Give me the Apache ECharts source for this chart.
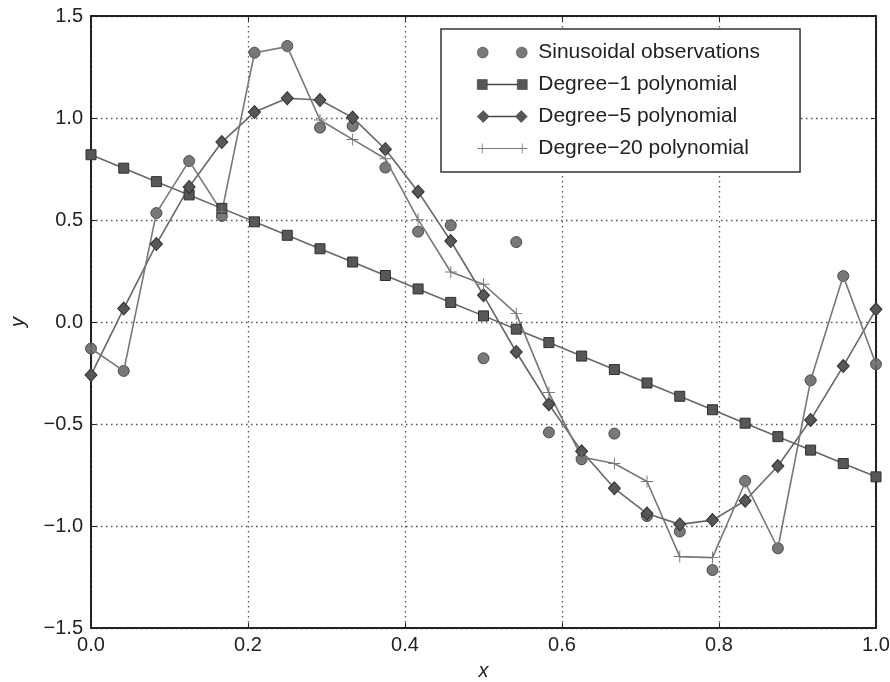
<!DOCTYPE html>
<html>
<head>
<meta charset="utf-8">
<script src="https://cdn.jsdelivr.net/npm/echarts@6/dist/echarts.min.js"></script>
<style>
  html, body { margin: 0; padding: 0; background: #fff; }
  #main { width: 890px; height: 682px; }
</style>
</head>
<body>
<div id="main"></div>
<script>
// x positions of the 25 samples
var xs = [0.0000, 0.0417, 0.0833, 0.1250, 0.1667, 0.2083, 0.2500, 0.2917, 0.3333,
          0.3750, 0.4167, 0.4583, 0.5000, 0.5417, 0.5833, 0.6250, 0.6667, 0.7083,
          0.7500, 0.7917, 0.8333, 0.8750, 0.9167, 0.9583, 1.0000];

var observations = [-0.13, -0.24, 0.534, 0.789, 0.52, 1.32, 1.353, 0.953, 0.961,
                    0.757, 0.443, 0.474, -0.178, 0.392, -0.541, -0.673, -0.547, -0.951,
                    -1.027, -1.216, -0.779, -1.109, -0.286, 0.225, -0.207];

var degree1 = [0.820, 0.754, 0.688, 0.623, 0.557, 0.491, 0.425, 0.359, 0.294,
               0.228, 0.162, 0.096, 0.030, -0.035, -0.101, -0.167, -0.233, -0.299,
               -0.364, -0.430, -0.496, -0.562, -0.628, -0.694, -0.759];

var degree5 = [-0.26, 0.066, 0.382, 0.662, 0.882, 1.029, 1.097, 1.088, 1.002,
               0.847, 0.639, 0.397, 0.131, -0.147, -0.403, -0.634, -0.815, -0.939,
               -0.992, -0.971, -0.876, -0.706, -0.48, -0.216, 0.062];

var degree20 = [-0.13, -0.24, 0.535, 0.79, 0.54, 1.32, 1.35, 0.99, 0.895,
                0.80, 0.503, 0.245, 0.185, 0.041, -0.346, -0.662, -0.694, -0.782,
                -1.15, -1.155, -0.787, -1.109, -0.286, 0.225, -0.207];

var seriesNames = ['Sinusoidal observations', 'Degree\u22121 polynomial',
                   'Degree\u22125 polynomial', 'Degree\u221220 polynomial'];

function pairs(ys) {
    var out = [];
    for (var i = 0; i < xs.length; i++) out.push([xs[i], ys[i]]);
    return out;
}

// minus sign like the original tick labels
function fmt(v) {
    return v.toFixed(1).replace('-', '\u2212');
}

var FONT = 'Liberation Sans';
var markFill = '#575757';
var markEdge = '#303030';
var lineCol = '#676767';
var plusPath = 'path://M4.6,0 H5.4 V4.6 H10 V5.4 H5.4 V10 H4.6 V5.4 H0 V4.6 H4.6 Z';

// legend keys: marker at both ends joined by a line (50 x 12 box)
var keyCircles = 'path://M0,6 A5.5,5.5 0 1,1 11,6 A5.5,5.5 0 1,1 0,6 Z M39,6 A5.5,5.5 0 1,1 50,6 A5.5,5.5 0 1,1 39,6 Z';
var keySquares = 'path://M0,1 H10 V11 H0 Z M10,5.6 H40 V6.4 H10 Z M40,1 H50 V11 H40 Z';
var keyDiamonds = 'path://M0,6 L6,0 L12,6 L6,12 Z M12,5.6 H38 V6.4 H12 Z M38,6 L44,0 L50,6 L44,12 Z';
var keyPlus = 'path://M4.6,1 H5.4 V5.6 H44.6 V1 H45.4 V11 H44.6 V6.4 H5.4 V11 H4.6 Z M0,5.6 H4.6 V6.4 H0 Z M45.4,5.6 H50 V6.4 H45.4 Z';

var myChart = echarts.init(document.getElementById('main'));

var frameLine = { show: true, onZero: false, lineStyle: { color: '#222', width: 2 } };
var frameTick = { show: true, inside: true, length: 5, lineStyle: { color: '#222', width: 1 } };
var gridDots = { show: true, lineStyle: { color: '#555', width: 1.3, type: [1.5, 3.5] } };

option = {
    backgroundColor: '#fff',
    animation: false,
    grid: { left: 91, right: 14, top: 16, bottom: 54, containLabel: false, outerBoundsMode: 'none' },
    legend: {
        orient: 'vertical',
        left: 441,
        top: 29,
        data: [
            { name: seriesNames[0], icon: keyCircles },
            { name: seriesNames[1], icon: keySquares },
            { name: seriesNames[2], icon: keyDiamonds },
            { name: seriesNames[3], icon: keyPlus }
        ],
        itemWidth: 50,
        itemHeight: 12,
        itemGap: 11,
        padding: [13, 40, 13, 36],
        borderColor: '#333',
        borderWidth: 1.5,
        backgroundColor: '#fff',
        itemStyle: { borderWidth: 0.5 },
        textStyle: { fontFamily: FONT, fontSize: 21, color: '#222', lineHeight: 21, padding: [0, 0, 0, 6] }
    },
    xAxis: [
        {
            type: 'value', min: 0, max: 1, interval: 0.2, position: 'bottom',
            name: 'x', nameLocation: 'middle', nameGap: 33,
            nameTextStyle: { fontFamily: FONT, fontSize: 20, fontStyle: 'italic', color: '#222' },
            axisLine: frameLine, axisTick: frameTick,
            axisLabel: { fontFamily: FONT, fontSize: 20, color: '#222', margin: 7, formatter: fmt },
            splitLine: gridDots
        },
        {
            type: 'value', min: 0, max: 1, interval: 0.2, position: 'top',
            axisLine: frameLine, axisTick: frameTick,
            axisLabel: { show: false }, splitLine: { show: false }
        }
    ],
    yAxis: [
        {
            type: 'value', min: -1.5, max: 1.5, interval: 0.5, position: 'left',
            name: 'y', nameLocation: 'middle', nameGap: 63,
            nameTextStyle: { fontFamily: FONT, fontSize: 20, fontStyle: 'italic', color: '#222' },
            axisLine: frameLine, axisTick: frameTick,
            axisLabel: { fontFamily: FONT, fontSize: 20, color: '#222', margin: 8, formatter: fmt },
            splitLine: gridDots
        },
        {
            type: 'value', min: -1.5, max: 1.5, interval: 0.5, position: 'right',
            axisLine: frameLine, axisTick: frameTick,
            axisLabel: { show: false }, splitLine: { show: false }
        }
    ],
    series: [
        {
            name: seriesNames[0],
            type: 'scatter',
            data: pairs(observations),
            symbol: 'circle',
            symbolSize: 11,
            itemStyle: { color: markFill, borderColor: markEdge, borderWidth: 1 }
        },
        {
            name: seriesNames[1],
            type: 'line',
            data: pairs(degree1),
            symbol: 'rect',
            symbolSize: 10,
            showAllSymbol: true,
            lineStyle: { color: lineCol, width: 1.6 },
            itemStyle: { color: markFill, borderColor: markEdge, borderWidth: 1 }
        },
        {
            name: seriesNames[2],
            type: 'line',
            data: pairs(degree5),
            symbol: 'diamond',
            symbolSize: [12, 13],
            showAllSymbol: true,
            lineStyle: { color: lineCol, width: 1.6 },
            itemStyle: { color: markFill, borderColor: markEdge, borderWidth: 1 }
        },
        {
            name: seriesNames[3],
            type: 'line',
            data: pairs(degree20),
            symbol: plusPath,
            symbolSize: 12,
            showAllSymbol: true,
            lineStyle: { color: '#777', width: 1.6 },
            itemStyle: { color: '#777', borderWidth: 0 }
        }
    ]
};

myChart.setOption(option);
</script>
</body>
</html>
